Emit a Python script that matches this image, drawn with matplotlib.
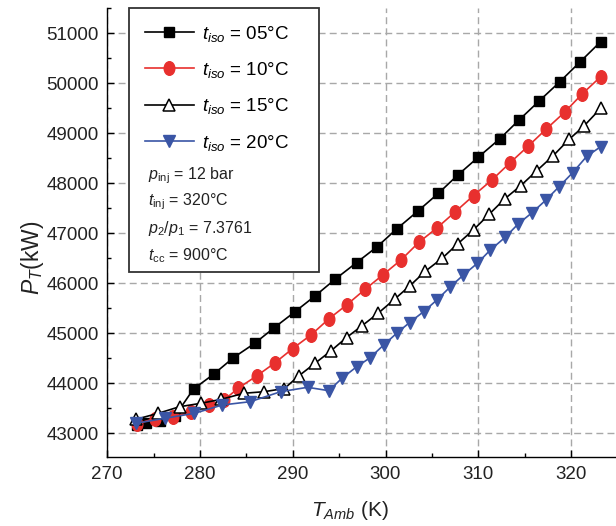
import matplotlib
matplotlib.use('Agg')
import matplotlib.pyplot as plt
from matplotlib.path import Path
from matplotlib.patches import Rectangle
from matplotlib.ticker import MultipleLocator
import numpy as np

plt.rcParams['font.family'] = ['Liberation Sans', 'DejaVu Sans']
plt.rcParams['mathtext.fontset'] = 'custom'
plt.rcParams['mathtext.rm'] = 'Liberation Sans'
plt.rcParams['mathtext.it'] = 'Liberation Sans:italic'
plt.rcParams['mathtext.bf'] = 'Liberation Sans:bold'

# ---------------- data ----------------
x_05 = [273.2, 274.2, 275.7, 277.3, 279.3, 281.5, 283.6, 285.9, 288.0, 290.2, 292.4, 294.6,
        296.9, 299.1, 301.2, 303.5, 305.7, 307.8, 310.0, 312.3, 314.4, 316.6, 318.8, 321.0, 323.2]
p_05 = [43166, 43206, 43246, 43346, 43886, 44186, 44512, 44800, 45112, 45426, 45746, 46086,
        46416, 46732, 47086, 47446, 47800, 48166, 48522, 48886, 49266, 49652, 50032, 50432, 50832]

x_10 = [273.2, 275.1, 277.1, 279.0, 281.0, 282.6, 284.1, 286.1, 288.1, 290.0, 292.0, 293.9,
        295.8, 297.8, 299.7, 301.7, 303.6, 305.6, 307.5, 309.5, 311.5, 313.4, 315.4, 317.3,
        319.3, 321.2, 323.2]
p_10 = [43186, 43296, 43326, 43426, 43566, 43666, 43900, 44146, 44412, 44696, 44972, 45290,
        45566, 45880, 46166, 46472, 46820, 47116, 47426, 47756, 48072, 48406, 48746, 49080,
        49420, 49786, 50132]

x_15 = [273.1, 275.5, 277.8, 280.1, 282.3, 284.7, 286.9, 289.1, 290.7, 292.4, 294.1, 295.8,
        297.5, 299.2, 301.0, 302.6, 304.3, 306.1, 307.8, 309.5, 311.2, 312.9, 314.6, 316.3,
        318.1, 319.8, 321.4, 323.2]
p_15 = [43280, 43400, 43532, 43600, 43680, 43800, 43832, 43896, 44156, 44400, 44646, 44916,
        45156, 45400, 45686, 45946, 46242, 46500, 46792, 47072, 47386, 47696, 47956, 48250,
        48556, 48880, 49146, 49500]

x_20 = [273.1, 276.2, 279.4, 282.4, 285.4, 288.7, 291.6, 293.9, 295.3, 296.9, 298.3, 299.8,
        301.2, 302.6, 304.1, 305.5, 307.0, 308.4, 309.9, 311.3, 312.9, 314.3, 315.8, 317.3,
        318.7, 320.2, 321.7, 323.2]
p_20 = [43200, 43300, 43400, 43566, 43632, 43832, 43920, 43852, 44100, 44332, 44506, 44766,
        45000, 45216, 45432, 45660, 45932, 46166, 46400, 46666, 46920, 47186, 47412, 47666,
        47930, 48216, 48540, 48732]

labels = [r'$t_{iso}$ = 05°C', r'$t_{iso}$ = 10°C', r'$t_{iso}$ = 15°C', r'$t_{iso}$ = 20°C']
notes = [r'$p_{\mathrm{inj}}$ = 12 bar', r'$t_{\mathrm{inj}}$ = 320°C',
         r'$p_2/p_1$ = 7.3761', r'$t_{\mathrm{cc}}$ = 900°C']

# ---------------- figure ----------------
W, H = 616, 526
fig = plt.figure(figsize=(W / 100, H / 100), dpi=100)
ax_l, ax_b, ax_r, ax_t = 107.25, 456.7, 616, 8
ax = fig.add_axes([ax_l / W, 1 - ax_b / H, (ax_r - ax_l) / W, (ax_b - ax_t) / H])

red = '#e8302e'
blue = '#3a55a5'
ell = Path.unit_circle()
ell = Path(ell.vertices * np.array([0.78, 1.0]), ell.codes)

lw = 1.2
h1, = ax.plot(x_05, p_05, color='black', lw=lw, marker='s', ms=7.8, mfc='black', mec='black', zorder=3)
h2, = ax.plot(x_10, p_10, color=red, lw=lw, marker=ell, ms=9.8, mfc=red, mec=red, zorder=3)
h3, = ax.plot(x_15, p_15, color='black', lw=lw, marker='^', ms=9.0, mfc='white', mec='black', mew=1.1, zorder=4)
h4, = ax.plot(x_20, p_20, color=blue, lw=lw, marker='v', ms=9.0, mfc=blue, mec=blue, zorder=5)

ax.set_xlim(270, 270 + (ax_r - ax_l) / 9.275)
ax.set_ylim(43000 - (ax_b - 433.3) * 20, 51000 + (33.3 - ax_t) * 20)
ax.xaxis.set_major_locator(MultipleLocator(10))
ax.xaxis.set_minor_locator(MultipleLocator(5))
ax.yaxis.set_major_locator(MultipleLocator(1000))
ax.yaxis.set_minor_locator(MultipleLocator(500))
ax.tick_params(which='both', direction='in', width=1.0, colors='black', labelsize=13.5,
               labelcolor='#222222')
ax.tick_params(which='major', length=5, pad=6)
ax.tick_params(which='minor', length=3)
ax.tick_params(axis='x', pad=7)
for s in ['top', 'right']:
    ax.spines[s].set_visible(False)
for s in ['left', 'bottom']:
    ax.spines[s].set_linewidth(1.0)
ax.grid(True, which='major', color='#a8a8a8', linestyle=(0, (5, 3)), lw=1.0, zorder=0)
ax.set_axisbelow(True)

ax.set_xlabel(r'$T_{Amb}$ (K)', fontsize=15, color='#222222')
ax.set_ylabel(r'$P_T$(kW)', fontsize=16.5, color='#222222')
ax.xaxis.set_label_coords((350 - ax_l) / (ax_r - ax_l), -(510 - ax_b) / (ax_b - ax_t))
ax.yaxis.set_label_coords(-(ax_l - 32) / (ax_r - ax_l), (ax_b - 258) / (ax_b - ax_t))
ax.xaxis.label.set_va('center')
ax.yaxis.label.set_va('center')

# legend box
box = Rectangle((129 / W, 1 - 271.5 / H), (318.5 - 129) / W, (271.5 - 8.3) / H,
                transform=fig.transFigure, facecolor='white', edgecolor='#333333', lw=1.3, zorder=6)
fig.add_artist(box)

leg = fig.legend([h1, h2, h3, h4], labels, loc='upper left',
                 bbox_to_anchor=(137 / W, 1 - 16 / H), frameon=False, fontsize=13.5,
                 handlelength=2.65, handletextpad=0.4, labelspacing=0.88, borderaxespad=0)
leg.set_zorder(7)

for i, t in enumerate(notes):
    fig.text(148 / W, 1 - [176, 202, 229, 256][i] / H, t, fontsize=11.5, va='center', ha='left',
             color='#222222', zorder=8)

fig.savefig('out.png', dpi=100)
